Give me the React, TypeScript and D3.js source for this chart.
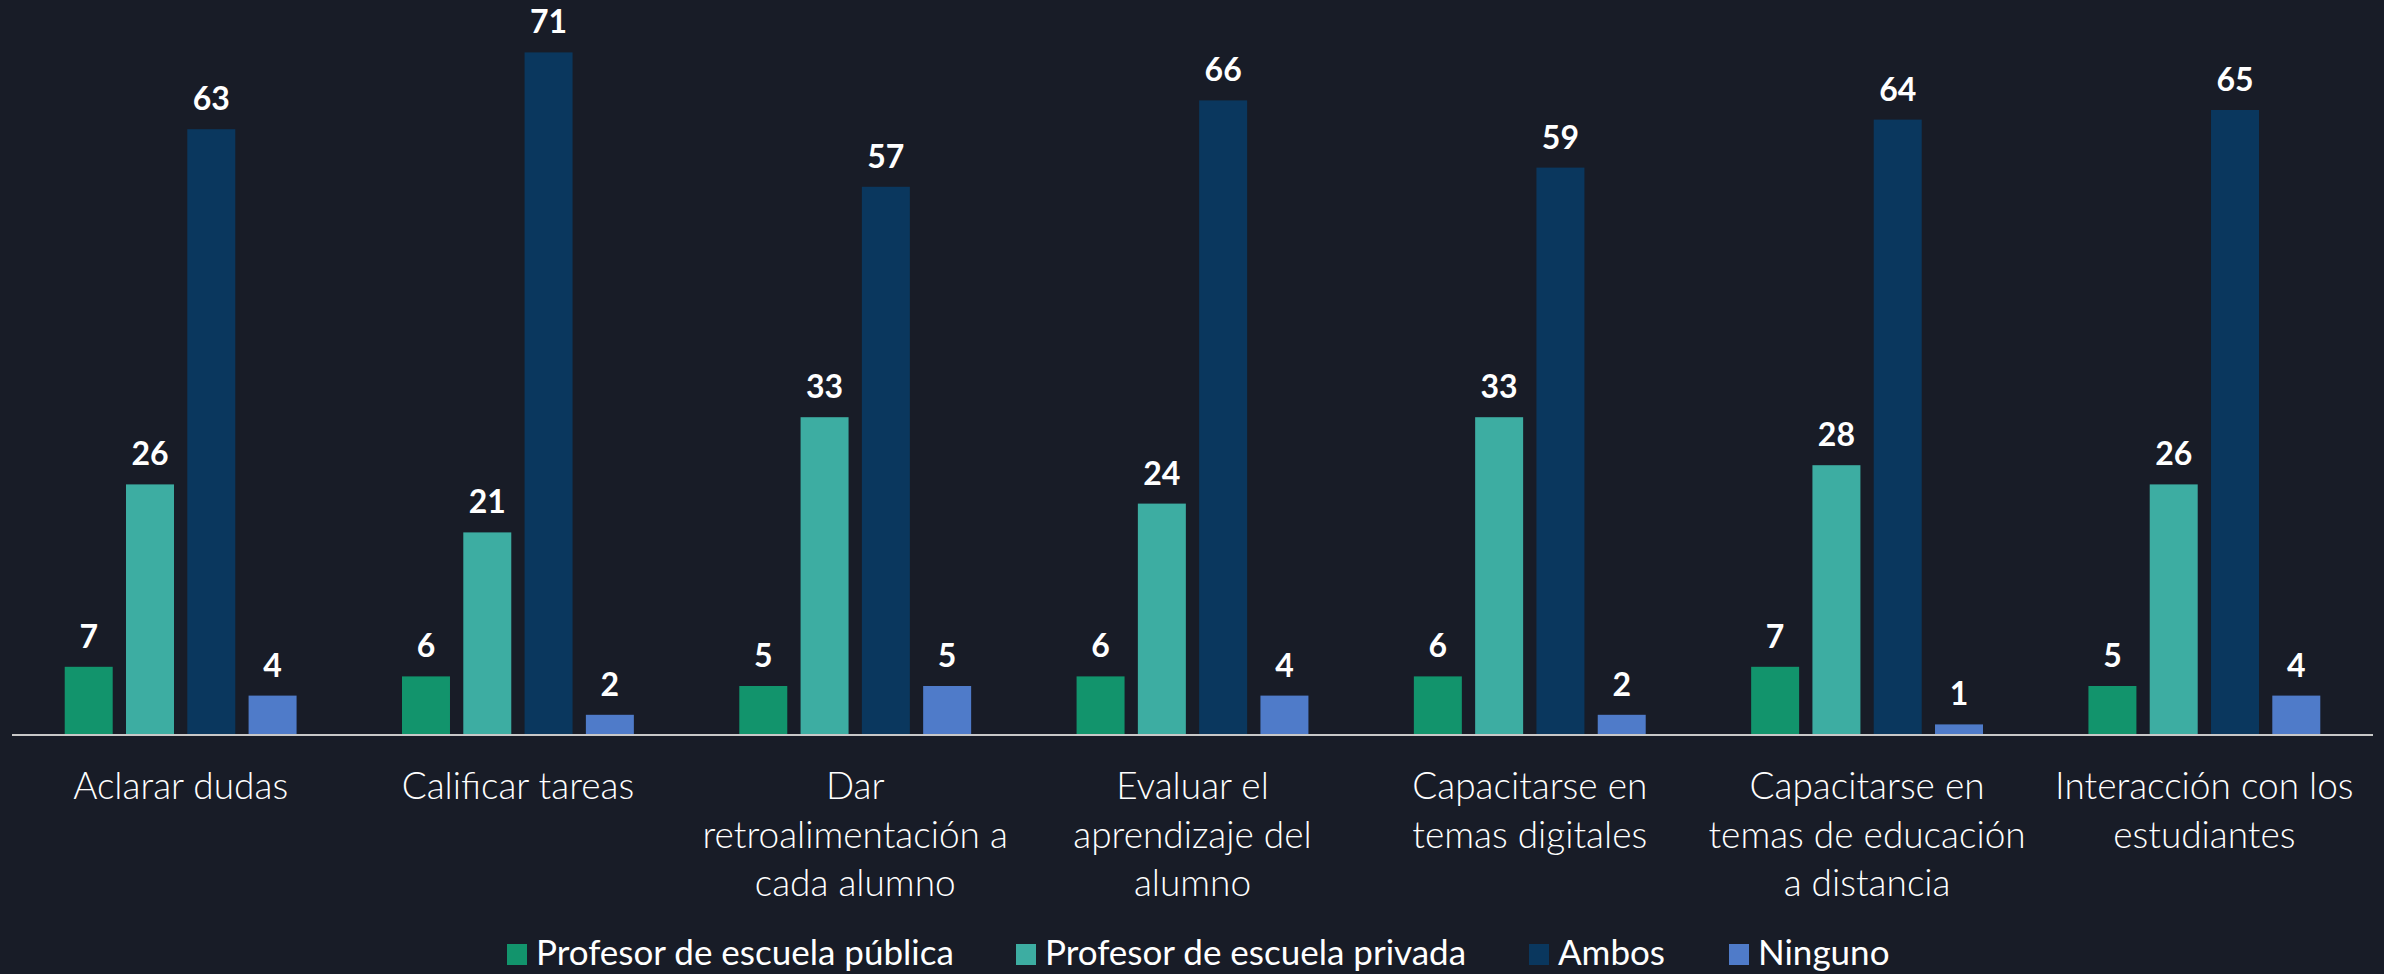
import * as d3 from "d3";

const categories = [
  ["Aclarar dudas"],
  ["Calificar tareas"],
  ["Dar", "retroalimentación a", "cada alumno"],
  ["Evaluar el", "aprendizaje del", "alumno"],
  ["Capacitarse en", "temas digitales"],
  ["Capacitarse en", "temas de educación", "a distancia"],
  ["Interacción con los", "estudiantes"],
];

const seriesNames = [
  "Profesor de escuela pública",
  "Profesor de escuela privada",
  "Ambos",
  "Ninguno",
];

const publica = [7, 6, 5, 6, 6, 7, 5];
const privada = [26, 21, 33, 24, 33, 28, 26];
const ambos = [63, 71, 57, 66, 59, 64, 65];
const ninguno = [4, 2, 5, 4, 2, 1, 4];

const colors = ["#12946c", "#3dada2", "#0a375e", "#4f7bc9"];

const width = 2384;
const height = 974;
const baseline = 734;

export default function App() {
  const values = [publica, privada, ambos, ninguno];
  const catKeys = categories.map((c) => c.join(" "));

  const x0 = d3.scaleBand<string>().domain(catKeys).range([12, 2373]);
  const x1 = d3
    .scaleBand<string>()
    .domain(seriesNames)
    .range([0, x0.bandwidth()])
    .paddingInner(0.217)
    .paddingOuter(0.86);
  const y = d3.scaleLinear().domain([0, 75]).range([baseline, 14]);

  const legendX = [507, 1016, 1529, 1729];

  return (
    <svg
      width={width}
      height={height}
      style={{ position: "absolute", left: 0, top: 0, display: "block" }}
    >
      <rect width={width} height={height} fill="#181c27" />

      {catKeys.map((key, ci) => (
        <g key={key} transform={`translate(${x0(key)},0)`}>
          {seriesNames.map((s, si) => {
            const v = values[si][ci];
            const bx = x1(s)!;
            return (
              <g key={s}>
                <rect
                  x={bx}
                  y={y(v)}
                  width={x1.bandwidth()}
                  height={baseline - y(v)}
                  fill={colors[si]}
                />
                <text
                  x={bx + x1.bandwidth() / 2}
                  y={y(v) - 19}
                  textAnchor="middle"
                  fill="#ffffff"
                  fontFamily="Lato, sans-serif"
                  fontWeight={700}
                  fontSize={32}
                >
                  {v}
                </text>
              </g>
            );
          })}
          <text
            x={x0.bandwidth() / 2}
            y={799}
            textAnchor="middle"
            fill="#ffffff"
            fontFamily="Lato, sans-serif"
            fontWeight={300}
            fontSize={37}
          >
            {categories[ci].map((line, li) => (
              <tspan key={li} x={x0.bandwidth() / 2} y={799 + li * 48.5}>
                {line}
              </tspan>
            ))}
          </text>
        </g>
      ))}

      <line
        x1={12}
        x2={2373}
        y1={baseline + 1}
        y2={baseline + 1}
        stroke="#c8c8c8"
        strokeWidth={2}
      />

      {seriesNames.map((s, i) => (
        <g key={s} transform={`translate(${legendX[i]},0)`}>
          <rect x={0} y={944} width={20} height={21} fill={colors[i]} />
          <text
            x={29}
            y={965}
            fill="#ffffff"
            fontFamily="Lato, sans-serif"
            fontSize={35}
          >
            {s}
          </text>
        </g>
      ))}
    </svg>
  );
}
